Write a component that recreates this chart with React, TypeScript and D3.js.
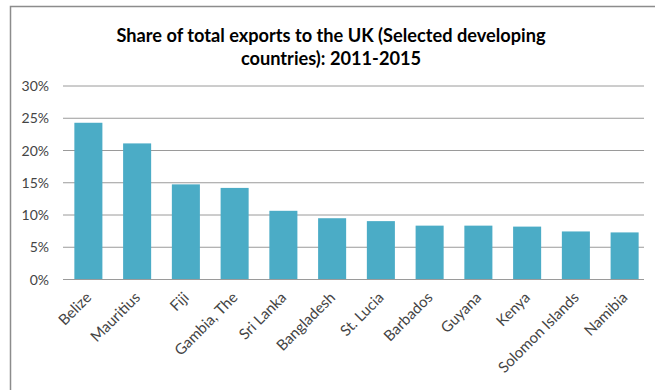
import React from "react";
import * as d3 from "d3";

const countries = ["Belize", "Mauritius", "Fiji", "Gambia, The", "Sri Lanka", "Bangladesh", "St. Lucia", "Barbados", "Guyana", "Kenya", "Solomon Islands", "Namibia"];
const shares = [24.3, 21.1, 14.75, 14.2, 10.65, 9.5, 9.05, 8.35, 8.35, 8.2, 7.45, 7.3];
const yTicks = [0, 5, 10, 15, 20, 25, 30];
const titleLines = ["Share of total exports to the UK (Selected developing", "countries): 2011-2015"];

const W = 655, H = 390;
const gridLeft = 63, gridRight = 644;
const top = 86, bottom = 279.5;

export default function App() {
  const x = d3.scaleBand<string>().domain(countries).range([64, 649]).paddingInner(0.425).paddingOuter(0.2125);
  const y = d3.scaleLinear().domain([0, 30]).range([bottom, top]);
  const font = "Lato, 'Open Sans', sans-serif";
  return (
    <svg width={W} height={H} style={{ position: "absolute", left: 0, top: 0, background: "#fff" }}>
      <rect x={10.5} y={6.5} width={W} height={H} fill="#fff" stroke="#8c8c8c" strokeWidth={1.5} />
      {titleLines.map((t, i) => (
        <text key={i} x={331} y={42 + i * 23} textAnchor="middle" fontFamily={font} fontWeight={700} fontSize={18.2} fill="#000">{t}</text>
      ))}
      {yTicks.map(v => (
        <g key={v}>
          <line x1={gridLeft} x2={gridRight} y1={y(v)} y2={y(v)} stroke="#9a9a9a" strokeWidth={1} />
          <text x={49} y={y(v) + 5} textAnchor="end" fontFamily={font} fontSize={14} fill="#444">{v}%</text>
        </g>
      ))}
      {countries.map((c, i) => (
        <rect key={c} x={x(c)} y={y(shares[i])} width={x.bandwidth()} height={bottom - y(shares[i])} fill="#4BACC6" />
      ))}
      <line x1={gridLeft} x2={gridRight} y1={bottom} y2={bottom} stroke="#9a9a9a" strokeWidth={1} />
      {countries.map(c => {
        const cx = (x(c) as number) + x.bandwidth() / 2 + 4;
        const cy = bottom + 19;
        return (
          <text key={c} x={cx} y={cy} transform={`rotate(-45 ${cx} ${cy})`} textAnchor="end" fontFamily={font} fontSize={15} fill="#444">{c}</text>
        );
      })}
    </svg>
  );
}
